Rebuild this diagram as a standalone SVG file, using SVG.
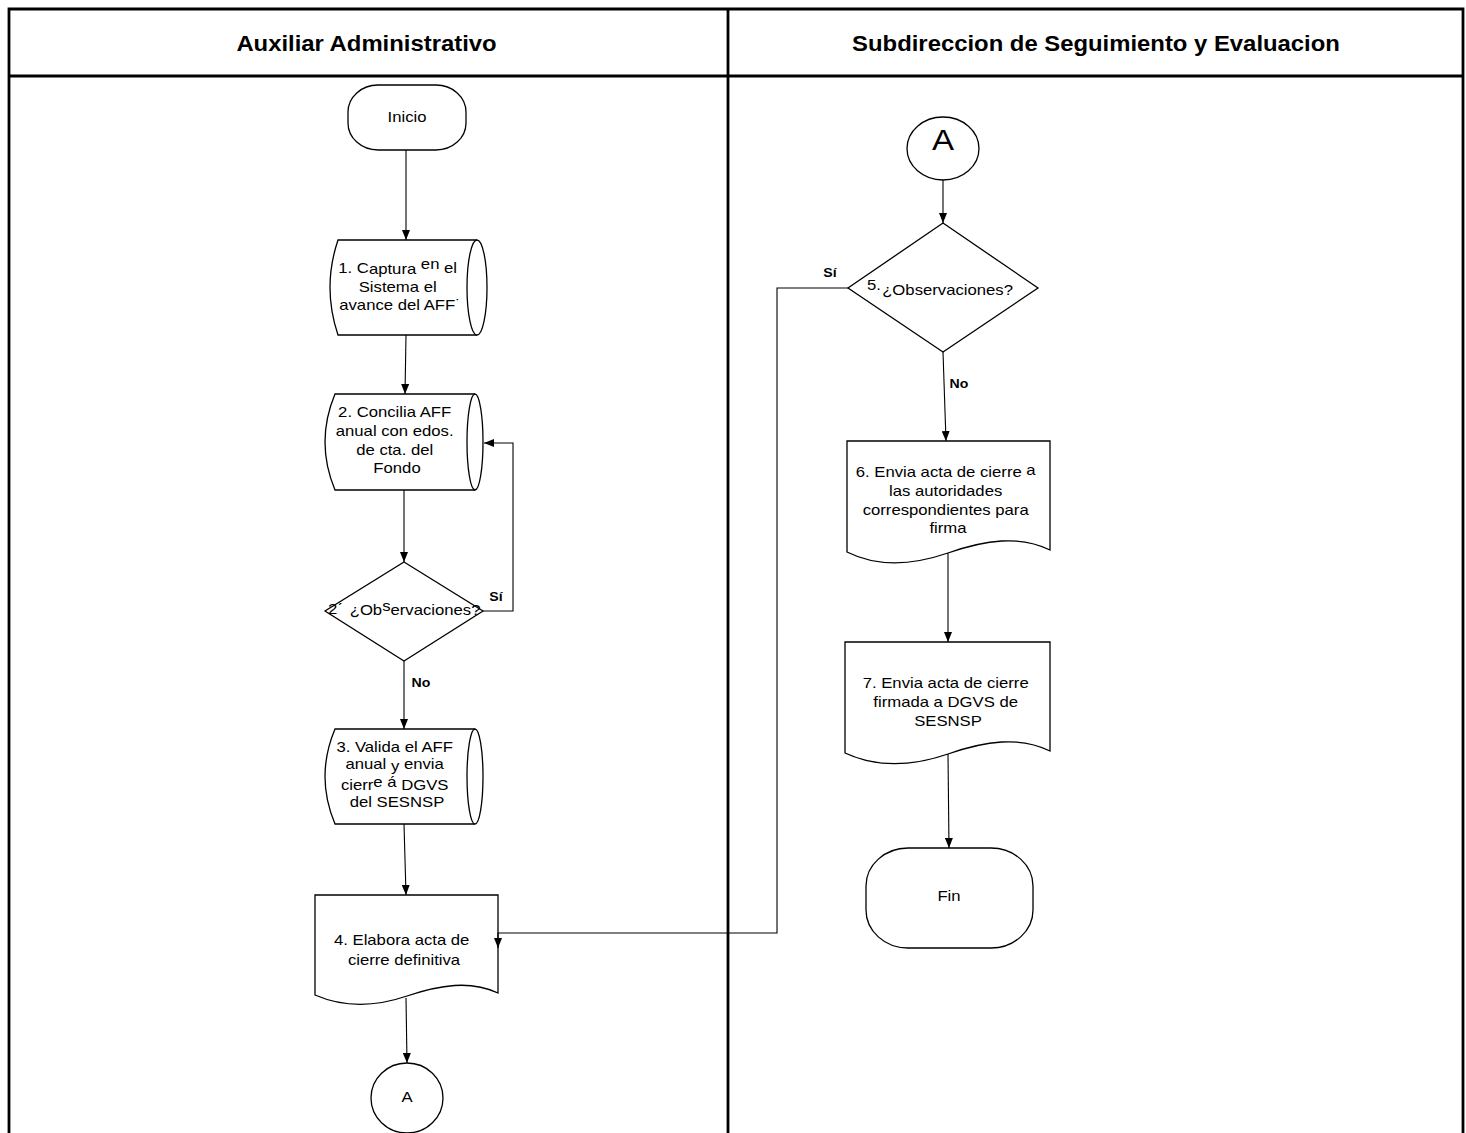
<svg xmlns="http://www.w3.org/2000/svg" width="1466" height="1133" viewBox="0 0 1466 1133">
  <style>
    .lane { fill: none; stroke: #000; stroke-width: 2.8; }
    .shape { fill: #fff; stroke: #000; stroke-width: 1.3; }
    .edge { fill: none; stroke: #000; stroke-width: 1.1; }
    .arrow { marker-end: url(#ah); }
    .hd { font-family: "Liberation Sans", Arial, sans-serif; font-size: 22px; font-weight: bold; text-anchor: middle; fill: #000; }
    .t { font-family: "Liberation Sans", Arial, sans-serif; font-size: 15.4px; text-anchor: middle; fill: #000; }
    .ts { font-family: "Liberation Sans", Arial, sans-serif; font-size: 15.4px; fill: #000; }
    .lbl { font-family: "Liberation Sans", Arial, sans-serif; font-size: 13px; font-weight: bold; text-anchor: middle; fill: #000; }
  </style>
  <defs>
    <marker id="ah" viewBox="0 0 10 8" refX="10" refY="4" markerWidth="10" markerHeight="8" markerUnits="userSpaceOnUse" orient="auto">
      <path d="M0 0 L10 4 L0 8 Z" fill="#000"/>
    </marker>
  </defs>
  <rect width="1466" height="1133" fill="#fff"/>

  <!-- swimlane frame -->
  <g id="lanes">
    <path class="lane" d="M9 1133 V9 H1463 V1133 M9 76 H1463 M728 9 V1133"/>
    <text class="hd" transform="translate(366.5 0) scale(1.085 1)" x="0" y="51">Auxiliar Administrativo</text>
    <text class="hd" transform="translate(1096 0) scale(1.085 1)" x="0" y="51">Subdireccion de Seguimiento y Evaluacion</text>
  </g>

  <!-- start -->
  <g id="inicio">
    <rect class="shape" x="348" y="85" width="118" height="65" rx="30" ry="27"/>
    <text class="t" transform="translate(407 0) scale(1.085 1)" x="0" y="122">Inicio</text>
  </g>

  <!-- 1. stored data -->
  <g id="n1">
    <path class="shape" d="M338 240 H477 A10 47.5 0 0 1 477 335 H338 Q322 287.5 338 240 Z"/>
    <path class="shape" d="M477 240 A10 47.5 0 0 0 477 335"/>
    <text class="t" transform="translate(400 0) scale(1.085 1)">
      <tspan x="0" y="273">1. C<tspan dy="1.5">aptura </tspan><tspan dy="-5">en</tspan><tspan dy="3.5"> el</tspan></tspan>
      <tspan x="0" y="292">Sistema el</tspan>
      <tspan x="0" y="310">avance del AFF˙</tspan>
    </text>
  </g>

  <!-- 2. stored data -->
  <g id="n2">
    <path class="shape" d="M335 394 H475 A8 48 0 0 1 475 490 H335 Q315 442 335 394 Z"/>
    <path class="shape" d="M475 394 A8 48 0 0 0 475 490"/>
    <text class="t" transform="translate(397 0) scale(1.085 1)">
      <tspan x="0" y="417">2. Concilia AFF</tspan>
      <tspan x="0" y="436">anual con edos.</tspan>
      <tspan x="0" y="455">de cta. del</tspan>
      <tspan x="0" y="473">Fondo</tspan>
    </text>
  </g>

  <!-- decision 2 -->
  <g id="d2">
    <path class="shape" d="M404 562 L483 611 L404 661 L325 611 Z"/>
    <text class="ts" transform="translate(328 0) scale(1.085 1)" y="614"><tspan x="0">2ˊ</tspan><tspan x="20" dy="1">¿Ob</tspan><tspan dy="-4">s</tspan><tspan dy="4">ervaciones?</tspan></text>
  </g>

  <!-- 3. stored data -->
  <g id="n3">
    <path class="shape" d="M335 729 H475 A8 47.5 0 0 1 475 824 H335 Q315 776.5 335 729 Z"/>
    <path class="shape" d="M475 729 A8 47.5 0 0 0 475 824"/>
    <text class="t" transform="translate(397 0) scale(1.085 1)">
      <tspan x="0" y="752">3. Valida el AFF</tspan>
      <tspan x="0" y="769">anual <tspan dy="2">y</tspan><tspan dy="-2"> envia</tspan></tspan>
      <tspan x="0" y="790">cierr<tspan dy="-3">e á</tspan><tspan dy="3"> DGVS</tspan></tspan>
      <tspan x="0" y="807">del SESNSP</tspan>
    </text>
  </g>

  <!-- 4. document -->
  <g id="n4">
    <path class="shape" d="M315 895 H498 V993 C470 980 440 985 407 996 C375 1007 345 1008 315 995 Z"/>
    <text class="t" transform="translate(404 0) scale(1.085 1)">
      <tspan x="0" y="945">4. Elabora acta de</tspan>
      <tspan x="0" y="965">cierre definitiva</tspan>
    </text>
  </g>

  <!-- off-page connector A (source) -->
  <g id="a1">
    <ellipse class="shape" cx="407" cy="1098" rx="36" ry="35"/>
    <text class="t" transform="translate(407 0) scale(1.085 1)" x="0" y="1102">A</text>
  </g>

  <!-- off-page connector A (target) -->
  <g id="a2">
    <ellipse class="shape" cx="943" cy="148.5" rx="36" ry="31.5"/>
    <text class="t" transform="translate(943 0) scale(1.1 1)" x="0" y="150" style="font-size:30px">A</text>
  </g>

  <!-- decision 5 -->
  <g id="d5">
    <path class="shape" d="M943 223 L1038 288 L943 352 L848 288 Z"/>
    <text class="ts" transform="translate(867 0) scale(1.085 1)" y="290"><tspan x="0">5.</tspan><tspan x="14" dy="5">¿Observaciones?</tspan></text>
  </g>

  <!-- 6. document -->
  <g id="n6">
    <path class="shape" d="M847 441 H1050 V550 C1020 535 985 540 948 553 C910 566 875 566 847 552 Z"/>
    <text class="t" transform="translate(948 0) scale(1.085 1)">
      <tspan x="0" y="477">6. Envia acta de cierre <tspan dy="-1.5">a</tspan></tspan>
      <tspan x="0" y="496">las autoridades</tspan>
      <tspan x="0" y="515">correspondientes para</tspan>
      <tspan x="0" y="533">firma</tspan>
    </text>
  </g>

  <!-- 7. document -->
  <g id="n7">
    <path class="shape" d="M845 642 H1050 V751 C1020 736 985 741 948 754 C910 767 875 767 845 753 Z"/>
    <text class="t" transform="translate(948 0) scale(1.085 1)">
      <tspan x="0" y="688">7. Envia acta de cierre</tspan>
      <tspan x="0" y="707">firmada a DGVS de</tspan>
      <tspan x="0" y="726">SESNSP</tspan>
    </text>
  </g>

  <!-- end -->
  <g id="fin">
    <rect class="shape" x="866" y="848" width="167" height="100" rx="42" ry="38"/>
    <text class="t" transform="translate(949 0) scale(1.085 1)" x="0" y="901">Fin</text>
  </g>

  <!-- connectors (drawn last so arrowheads sit on top of node outlines) -->
  <g id="connectors">
    <path class="edge arrow" d="M406 150 V240"/>
    <path class="edge arrow" d="M406 335 L405 394"/>
    <path class="edge arrow" d="M404 490 V562"/>
    <path class="edge arrow" d="M483 611 H513 V443 H484"/>
    <path class="edge arrow" d="M404 661 V729"/>
    <path class="edge arrow" d="M404 824 L406 895"/>
    <path class="edge arrow" d="M406 998 L407 1063"/>
    <path class="edge arrow" d="M848 288 H777 V933 H498 V948"/>
    <path class="edge arrow" d="M943 180 V223"/>
    <path class="edge arrow" d="M943 352 L946 441"/>
    <path class="edge arrow" d="M948 553 V642"/>
    <path class="edge arrow" d="M948 754 L949 848"/>
    <text class="lbl" transform="translate(496 0) scale(1.085 1)" x="0" y="601">Sí</text>
    <text class="lbl" transform="translate(421 0) scale(1.085 1)" x="0" y="687">No</text>
    <text class="lbl" transform="translate(830 0) scale(1.085 1)" x="0" y="277">Sí</text>
    <text class="lbl" transform="translate(959 0) scale(1.085 1)" x="0" y="388">No</text>
  </g>
</svg>
